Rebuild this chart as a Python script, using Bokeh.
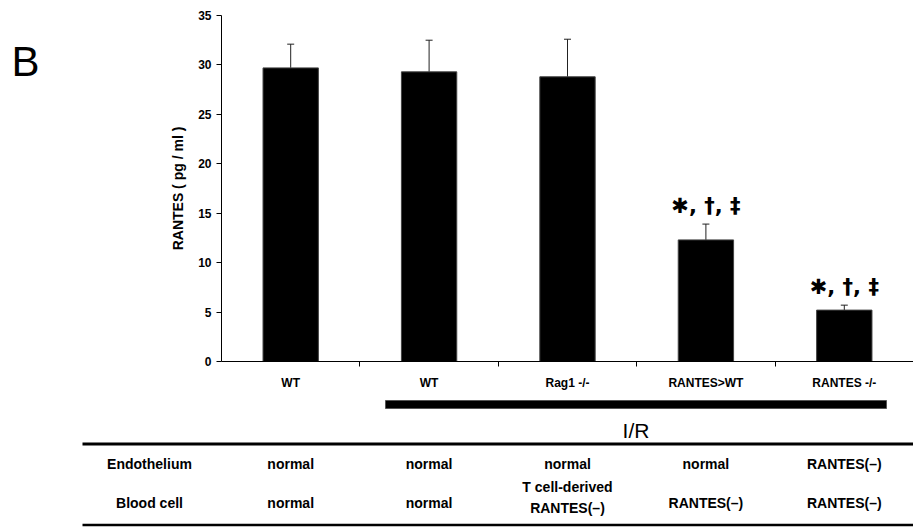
from bokeh.plotting import figure
from bokeh.layouts import column, row
from bokeh.models import Range1d, FixedTicker, Whisker, TeeHead, ColumnDataSource
from bokeh.core.properties import value
from bokeh.embed import file_html
from bokeh.resources import INLINE

# ---- data ----
categories = ["WT", "WT", "Rag1 -/-", "RANTES>WT", "RANTES -/-"]
rantes_mean = [29.7, 29.3, 28.8, 12.3, 5.2]
rantes_err = [2.4, 3.2, 3.8, 1.6, 0.5]
significance = ["", "", "", "✱, †, ‡", "✱, †, ‡"]
y_ticks = [0, 5, 10, 15, 20, 25, 30, 35]
ir_groups = [1, 2, 3, 4]
row_labels = ["Endothelium", "Blood cell"]
endothelium = ["normal", "normal", "normal", "normal", "RANTES(–)"]
blood_cell = ["normal", "normal", "T cell-derived\nRANTES(–)", "RANTES(–)", "RANTES(–)"]
panel_letter = "B"

FONT = "Liberation Sans"
W = 913
LEFT = 221
BW = 60  # width of the panel-letter strip
CAT_PX = 138.4
x_end = -0.5 + (W - LEFT) / CAT_PX
x_start_full = -0.5 - LEFT / CAT_PX

xs = list(range(len(categories)))
upper = [m + e for m, e in zip(rantes_mean, rantes_err)]
src = ColumnDataSource(dict(x=xs, top=rantes_mean, upper=upper, lower=rantes_mean, sig=significance))

H1 = 392

# ---- panel letter strip ----
b = figure(width=BW, height=H1, x_range=Range1d(0, BW), y_range=Range1d(H1, 0),
           output_backend="svg", toolbar_location=None, min_border=0,
           x_axis_type=None, y_axis_type=None)
b.frame_align = False
b.outline_line_color = None
b.grid.visible = False
b.text(x=[25], y=[61], text=[panel_letter], text_align="center", text_baseline="middle",
       text_font=value(FONT), text_font_size="42px", text_color="black")

# ---- bar chart ----
p = figure(width=W - BW, height=H1, x_range=Range1d(-0.5, x_end), y_range=Range1d(0, 35),
           output_backend="svg", toolbar_location=None,
           min_border_left=LEFT - BW, min_border_right=0, min_border_top=15, min_border_bottom=27)
p.frame_align = False
p.outline_line_color = None
p.grid.visible = False

p.vbar(x="x", top="top", width=0.4, source=src, fill_color="black", line_color="#444444")
p.add_layout(Whisker(base="x", upper="upper", lower="lower", source=src, line_color="#222222",
                     upper_head=TeeHead(size=7, line_color="#222222"), lower_head=None))
p.text(x="x", y="upper", text="sig", source=src, text_align="center", text_baseline="bottom",
       y_offset=-6, text_font=value("DejaVu Sans"), text_font_style="bold",
       text_font_size="21px", text_color="black")

p.xaxis.ticker = FixedTicker(ticks=xs, minor_ticks=[i + 0.5 for i in xs[:-1]])
p.xaxis.major_label_overrides = {i: c for i, c in zip(xs, categories)}
p.xaxis.major_tick_out = 0
p.xaxis.major_tick_in = 0
p.xaxis.minor_tick_out = 5
p.xaxis.minor_tick_in = 0
p.xaxis.major_label_standoff = 9
p.xaxis.major_label_text_font = FONT
p.xaxis.major_label_text_font_style = "bold"
p.xaxis.major_label_text_font_size = "12px"
p.xaxis.major_label_text_color = "black"
p.xaxis.axis_line_color = "black"
p.xaxis.minor_tick_line_color = "black"

p.yaxis.ticker = FixedTicker(ticks=y_ticks, minor_ticks=[])
p.yaxis.major_tick_out = 5
p.yaxis.major_tick_in = 0
p.yaxis.major_label_standoff = 5
p.yaxis.major_label_text_font = FONT
p.yaxis.major_label_text_font_style = "bold"
p.yaxis.major_label_text_font_size = "12px"
p.yaxis.major_label_text_color = "black"
p.yaxis.axis_line_color = "black"
p.yaxis.major_tick_line_color = "black"
p.yaxis.axis_label = "RANTES ( pg / ml )"
p.yaxis.axis_label_text_font = FONT
p.yaxis.axis_label_text_font_style = "bold"
p.yaxis.axis_label_text_font_size = "14px"
p.yaxis.axis_label_text_color = "black"
p.yaxis.axis_label_standoff = 9

# ---- table figure ----
H2 = 527 - H1
q = figure(width=W, height=H2, x_range=Range1d(x_start_full, x_end), y_range=Range1d(H2, 0),
           output_backend="svg", toolbar_location=None, min_border=0,
           x_axis_type=None, y_axis_type=None)
q.frame_align = False
q.outline_line_color = None
q.grid.visible = False

bar_l = min(ir_groups) - 0.315
bar_r = max(ir_groups) + 0.305
q.quad(left=[bar_l], right=[bar_r], top=[8], bottom=[16], fill_color="black", line_color="#555555")
q.text(x=[(bar_l + bar_r) / 2], y=[38], text=["I/R"], text_align="center", text_baseline="middle",
       text_font=value(FONT), text_font_size="21px", text_color="black")

line_l = -0.5 - (LEFT - 82) / CAT_PX
q.segment(x0=[line_l], x1=[x_end], y0=[51.5], y1=[51.5], line_color="black", line_width=3)
q.segment(x0=[line_l], x1=[x_end], y0=[132.5], y1=[132.5], line_color="black", line_width=2.5)

row_y = [71, 110]
row_x = -0.5 - (LEFT - 149) / CAT_PX
q.text(x=[row_x, row_x], y=row_y, text=row_labels, text_align="center", text_baseline="middle",
       text_font=value(FONT), text_font_style="bold", text_font_size="14px", text_color="black")
for vals, yy in zip([endothelium, blood_cell], row_y):
    ys = [yy - 5 if "\n" in v else yy for v in vals]
    q.text(x=xs, y=ys, text=vals, text_align="center", text_baseline="middle",
           text_font=value(FONT), text_font_style="bold", text_font_size="14px", text_color="black",
           text_line_height=1.28)

layout = column(row(b, p), q)
open("out.html", "w").write(file_html(layout, INLINE))
